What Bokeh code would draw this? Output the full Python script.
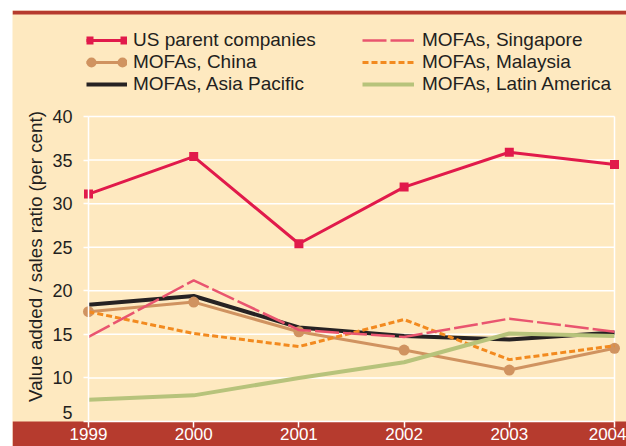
import math
from bokeh.plotting import figure
from bokeh.models import (ColumnDataSource, FixedTicker, Legend, LegendItem,
                          Range1d, BoxAnnotation, Spacer, Label)
from bokeh.layouts import column, row
from bokeh.embed import file_html
from bokeh.resources import INLINE

# ---------------- data ----------------
years = [1999, 2000, 2001, 2002, 2003, 2004]
us_parent = [31.1, 35.4, 25.4, 31.9, 35.9, 34.5]
singapore = [14.7, 21.2, 15.5, 14.7, 16.8, 15.3]
china = [17.6, 18.7, 15.3, 13.2, 10.9, 13.4]
malaysia = [17.6, 15.1, 13.6, 16.7, 12.1, 13.7]
asia_pacific = [18.4, 19.4, 15.8, 14.8, 14.4, 15.2]
latin_america = [7.5, 8.0, 10.0, 11.8, 15.1, 14.8]
y_ticks = [5, 10, 15, 20, 25, 30, 35, 40]
y_label = "Value added / sales ratio (per cent)"
series_labels = ["US parent companies", "MOFAs, China", "MOFAs, Asia Pacific",
                 "MOFAs, Singapore", "MOFAs, Malaysia", "MOFAs, Latin America"]

# ---------------- style ----------------
BG = "#FEE9C0"
BAND = "#B63B2E"
INK = "#231F20"
C_US = "#E11A4B"
C_SG = "#E9556F"
C_CN = "#D09360"
C_MY = "#F28A1F"
C_AP = "#262223"
C_LA = "#B7C37B"
FONT = "Liberation Sans"

W, H = 614, 436
# pixel placement of the data area inside the canvas
DATA_LEFT, DATA_RIGHT, DATA_TOP, DATA_BOTTOM = 76, 602, 106, 411
px_per_year = (DATA_RIGHT - DATA_LEFT) / (years[-1] - years[0])
px_per_unit = (DATA_BOTTOM - DATA_TOP) / (y_ticks[-1] - y_ticks[0])
x_start = years[0] - DATA_LEFT / px_per_year
x_end = years[-1] + (W - DATA_RIGHT) / px_per_year
y_start = y_ticks[0] - (H - DATA_BOTTOM) / px_per_unit
y_end = y_ticks[-1] + DATA_TOP / px_per_unit

p = figure(width=W, height=H, output_backend="svg", toolbar_location=None,
           x_range=Range1d(x_start, x_end), y_range=Range1d(y_start, y_end),
           min_border=0, min_border_left=0, min_border_right=0,
           min_border_top=0, min_border_bottom=0,
           background_fill_color=BG, border_fill_color=BG,
           outline_line_color=None)
p.xgrid.visible = False
p.ygrid.visible = False

# bands
p.add_layout(BoxAnnotation(top=0, bottom=4, top_units="canvas",
                           bottom_units="canvas",
                           fill_color=BAND, fill_alpha=1, line_color=None,
                           level="underlay"))
p.add_layout(BoxAnnotation(top=y_ticks[0], fill_color=BAND, fill_alpha=1,
                           line_color=None, level="underlay"))

# grid lines drawn over the data area only
p.segment(x0=[years[0]] * len(y_ticks), x1=[years[-1]] * len(y_ticks),
          y0=y_ticks, y1=y_ticks, line_color="white", line_width=1.5)
p.segment(x0=[years[-1]], x1=[years[-1]], y0=[y_ticks[0]], y1=[y_ticks[-1]],
          line_color="white", line_width=1.5)

# axes
yax = p.yaxis[0]
yax.fixed_location = years[0]
yax.ticker = FixedTicker(ticks=y_ticks)
yax.bounds = (y_ticks[0], y_ticks[-1])
yax.axis_line_color = "white"
yax.axis_line_width = 1.5
yax.major_tick_line_color = "white"
yax.major_tick_line_width = 1.5
yax.major_tick_out = 5
yax.major_tick_in = 0
yax.minor_tick_line_color = None
yax.major_label_text_font = FONT
yax.major_label_text_font_size = "18px"
yax.major_label_text_color = INK
yax.major_label_standoff = 11
yax.major_label_overrides = {y_ticks[0]: ""}

# lowest tick label sits a little above its line, clear of the band
p.add_layout(Label(x=years[0], y=y_ticks[0], text=str(y_ticks[0]),
                   x_offset=-16, y_offset=9, text_align="right",
                   text_baseline="middle", text_font=FONT,
                   text_font_size="18px", text_color=INK))

# axis title
p.add_layout(Label(x=23, y=246, x_units="canvas", y_units="canvas",
                   text=y_label, angle=math.pi / 2, text_align="center",
                   text_baseline="middle", text_font=FONT,
                   text_font_size="18.8px", text_color=INK))

xax = p.xaxis[0]
xax.fixed_location = y_ticks[0]
xax.ticker = FixedTicker(ticks=years)
xax.axis_line_color = None
xax.major_tick_line_color = "white"
xax.major_tick_line_width = 1.5
xax.major_tick_out = 6
xax.major_tick_in = 0
xax.minor_tick_line_color = None
xax.major_label_text_font = FONT
xax.major_label_text_font_size = "17px"
xax.major_label_text_color = "white"
xax.major_label_standoff = 0

# series
src = ColumnDataSource(dict(year=years, us=us_parent, sg=singapore, cn=china,
                            my=malaysia, ap=asia_pacific, la=latin_america))
r_ap = p.line("year", "ap", source=src, line_color=C_AP, line_width=4)
r_cn = p.line("year", "cn", source=src, line_color=C_CN, line_width=3)
p.scatter("year", "cn", source=src, marker="circle", size=11,
          fill_color=C_CN, line_color=None)
r_my = p.line("year", "my", source=src, line_color=C_MY, line_width=3,
              line_dash="6 3")
r_la = p.line("year", "la", source=src, line_color=C_LA, line_width=4)
r_sg = p.line("year", "sg", source=src, line_color=C_SG, line_width=2.5,
              line_dash="24 4")
r_us = p.line("year", "us", source=src, line_color=C_US, line_width=3)
p.scatter("year", "us", source=src, marker="square", size=9,
          fill_color=C_US, line_color=None)

# legend-only glyph decorations (end markers); a one-point line draws nothing
d_us = p.line(x=years[:1], y=us_parent[:1], line_color=C_US, line_width=8,
              line_dash="7 27 7", line_cap="butt")
d_cn = p.line(x=years[:1], y=china[:1], line_color=C_CN, line_width=10,
              line_dash="0 31", line_dash_offset=26, line_cap="round")


def make_legend(items, x, glyph_w, standoff):
    lg = Legend(items=items, location=(x, 351), orientation="vertical",
                glyph_width=glyph_w, glyph_height=22, label_height=22,
                spacing=0, padding=0, margin=0, label_standoff=standoff,
                border_line_color=None, background_fill_alpha=0,
                label_text_font=FONT, label_text_font_size="19px",
                label_text_color=INK)
    p.add_layout(lg)
    return lg


make_legend([LegendItem(label=series_labels[0], renderers=[r_us, d_us]),
             LegendItem(label=series_labels[1], renderers=[r_cn, d_cn]),
             LegendItem(label=series_labels[2], renderers=[r_ap])],
            74, 41, 6)
make_legend([LegendItem(label=series_labels[3], renderers=[r_sg]),
             LegendItem(label=series_labels[4], renderers=[r_my]),
             LegendItem(label=series_labels[5], renderers=[r_la])],
            350, 52, 8)

layout = column(Spacer(height=10),
                row(Spacer(width=12), p))

open("out.html", "w").write(file_html(layout, INLINE))
